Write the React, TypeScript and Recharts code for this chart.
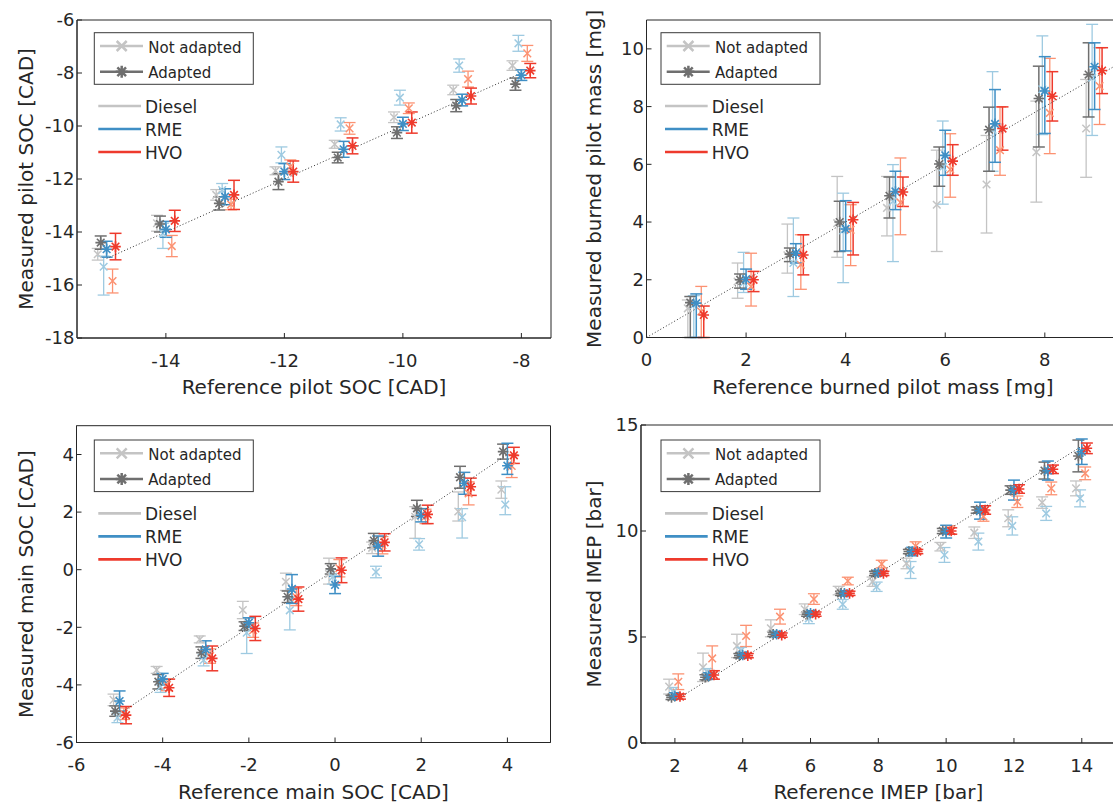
import React from 'react';
import { ScatterChart, Scatter, XAxis, YAxis, ErrorBar, ReferenceLine, ReferenceArea } from 'recharts';

type Err = number | [number, number];

const FONT = '"DejaVu Sans", Verdana, sans-serif';
const TEXT = '#262626';

const C_DIESEL_NA = '#c4c4c4';
const C_DIESEL_A = '#6f6f6f';
const C_RME_NA = '#9ecae1';
const C_RME_A = '#3f8fc5';
const C_HVO_NA = '#fc9272';
const C_HVO_A = '#ee3a2c';

const LEGEND_FUEL = ['Diesel', 'RME', 'HVO'];
const LEGEND_MODE = ['Not adapted', 'Adapted'];

// ---------- Top left: pilot SOC ----------
const TL_X = [-15, -14, -13, -12, -11, -10, -9, -8];
const TL_XTICKS = [-14, -12, -10, -8];
const TL_YTICKS = [-18, -16, -14, -12, -10, -8, -6];
const TL_D_NA = [-14.84, -13.67, -12.6, -11.69, -10.69, -9.67, -8.64, -7.72];
const TL_D_NA_E: Err[] = [0.22, 0.3, 0.2, 0.15, 0.15, 0.2, 0.18, 0.18];
const TL_D_A = [-14.4, -13.7, -12.92, -12.1, -11.19, -10.25, -9.23, -8.42];
const TL_D_A_E: Err[] = [0.25, 0.3, 0.25, 0.3, 0.2, 0.22, 0.23, 0.23];
const TL_R_NA = [-15.31, -14.05, -12.42, -11.09, -9.94, -8.93, -7.72, -6.88];
const TL_R_NA_E: Err[] = [[1.07, 0.4], [0.57, 0.38], 0.25, 0.3, 0.25, 0.28, 0.25, 0.3];
const TL_R_A = [-14.65, -13.9, -12.67, -11.72, -10.88, -9.92, -9.02, -8.08];
const TL_R_A_E: Err[] = [0.3, 0.3, 0.3, 0.3, 0.3, 0.25, 0.22, 0.2];
const TL_H_NA = [-15.85, -14.53, -12.96, -11.53, -10.09, -9.33, -8.23, -7.26];
const TL_H_NA_E: Err[] = [0.45, 0.4, 0.2, 0.25, 0.22, 0.2, 0.3, 0.3];
const TL_H_A = [-14.55, -13.58, -12.6, -11.72, -10.75, -9.87, -8.87, -7.91];
const TL_H_A_E: Err[] = [0.5, 0.4, 0.55, 0.4, 0.3, 0.4, 0.3, 0.27];

// ---------- Top right: burned pilot mass ----------
const TR_X = [1, 2, 3, 4, 5, 6, 7, 8, 9];
const TR_XTICKS = [0, 2, 4, 6, 8];
const TR_YTICKS = [0, 2, 4, 6, 8, 10];
const TR_D_NA = [1.01, 1.94, 2.85, 3.96, 4.49, 4.6, 5.3, 6.42, 7.24];
const TR_D_NA_E: Err[] = [[1.01, 0.29], [0.58, 0.64], [0.62, 1.08], [1.18, 1.62], [0.97, 1.09], [1.62, 1.89], [1.68, 1.7], [1.73, 1.77], [1.69, 1.7]];
const TR_D_A = [1.21, 2.0, 2.89, 4.0, 4.91, 6.01, 7.2, 8.28, 9.11];
const TR_D_A_E: Err[] = [[1.21, 0.21], [0.29, 0.2], [0.26, 0.21], [1.02, 0.72], [0.77, 0.65], [0.77, 0.59], [1.44, 0.78], [1.68, 1.12], [1.47, 1.1]];
const TR_R_NA = [1.13, 1.9, 2.58, 3.71, 4.72, 5.9, 7.2, 8.6, 9.0];
const TR_R_NA_E: Err[] = [[1.13, 0.32], [0.34, 1.05], [1.16, 1.56], [1.81, 1.29], [2.09, 1.27], [1.28, 1.6], [1.44, 2.01], [1.57, 1.85], [2.0, 1.85]];
const TR_R_A = [1.19, 2.02, 2.92, 3.76, 5.06, 6.31, 7.4, 8.54, 9.38];
const TR_R_A_E: Err[] = [[1.19, 0.32], [0.35, 0.35], [0.34, 0.33], [0.76, 0.98], [0.63, 0.7], [0.69, 0.87], [1.33, 1.19], [1.47, 1.19], [1.48, 0.83]];
const TR_H_NA = [0.9, 1.77, 2.52, 3.73, 4.68, 5.82, 6.49, 7.78, 8.71];
const TR_H_NA_E: Err[] = [[0.9, 0.87], [0.68, 1.15], [0.85, 1.04], [1.24, 0.87], [1.12, 1.54], [0.96, 1.24], [0.87, 1.5], [1.41, 1.89], [1.33, 1.33]];
const TR_H_A = [0.78, 2.0, 2.86, 4.08, 5.04, 6.11, 7.24, 8.36, 9.25];
const TR_H_A_E: Err[] = [[0.78, 0.31], [0.41, 0.29], [0.69, 0.7], [1.22, 0.6], [0.5, 0.52], [0.49, 0.57], [0.75, 0.75], [0.86, 0.85], [0.8, 0.79]];

// ---------- Bottom left: main SOC ----------
const BL_X = [-5, -4, -3, -2, -1, 0, 1, 2, 3, 4];
const BL_XTICKS = [-6, -4, -2, 0, 2, 4];
const BL_YTICKS = [-6, -4, -2, 0, 2, 4];
const BL_D_NA = [-4.52, -3.48, -2.42, -1.4, -0.42, -0.15, 0.76, 1.84, 2.02, 2.78];
const BL_D_NA_E: Err[] = [0.2, 0.12, 0.12, 0.3, 0.3, [0.35, 0.55], 0.2, [0.75, 0.35], [0.33, 0.68], 0.3];
const BL_D_A = [-4.91, -3.89, -2.88, -1.96, -0.94, 0.03, 1.01, 2.13, 3.21, 4.1];
const BL_D_A_E: Err[] = [0.18, 0.25, 0.2, 0.15, 0.2, 0.18, 0.25, 0.28, 0.38, 0.26];
const BL_R_NA = [-5.14, -4.06, -3.14, -2.19, -1.41, -0.25, -0.08, 0.88, 1.82, 2.26];
const BL_R_NA_E: Err[] = [0.17, 0.2, 0.2, [0.72, 0.3], [0.68, 0.47], 0.25, 0.2, 0.2, [0.72, 0.3], [0.35, 0.62]];
const BL_R_A = [-4.56, -3.8, -2.77, -1.84, -0.67, -0.53, 0.82, 1.89, 3.0, 3.61];
const BL_R_A_E: Err[] = [0.35, 0.2, 0.3, 0.17, 0.5, 0.3, 0.35, 0.23, 0.38, [0.3, 0.78]];
const BL_H_NA = [-5.0, -4.0, -3.0, -2.1, -0.95, 0.05, 0.85, 1.85, 2.65, 3.6];
const BL_H_NA_E: Err[] = [0.2, 0.2, 0.25, 0.25, 0.3, 0.3, 0.3, 0.25, 0.4, 0.4];
const BL_H_A = [-5.05, -4.1, -3.08, -2.04, -1.02, -0.02, 0.95, 1.92, 2.88, 3.97];
const BL_H_A_E: Err[] = [0.3, 0.3, 0.43, 0.42, 0.42, 0.43, 0.3, 0.32, 0.3, 0.28];

// ---------- Bottom right: IMEP ----------
const BR_X = [2, 3, 4, 5, 6, 7, 8, 9, 10, 11, 12, 13, 14];
const BR_XTICKS = [2, 4, 6, 8, 10, 12, 14];
const BR_YTICKS = [0, 5, 10, 15];
const BR_D_NA = [2.66, 3.57, 4.58, 5.41, 6.31, 7.19, 7.61, 8.47, 9.26, 9.92, 10.6, 11.34, 12.01];
const BR_D_NA_E: Err[] = [0.35, 0.67, 0.55, 0.4, 0.25, 0.2, 0.22, 0.25, 0.2, 0.27, 0.4, 0.27, 0.35];
const BR_D_A = [2.15, 3.1, 4.12, 5.13, 6.08, 7.06, 8.0, 9.03, 10.0, 10.99, 11.93, 12.85, 13.54];
const BR_D_A_E: Err[] = [0.1, 0.12, 0.1, 0.1, 0.1, 0.1, 0.1, 0.1, 0.12, 0.15, 0.2, 0.4, 0.75];
const BR_R_NA = [2.42, 3.36, 4.36, 5.13, 5.88, 6.54, 7.37, 8.16, 8.87, 9.5, 10.24, 10.83, 11.54];
const BR_R_NA_E: Err[] = [0.2, 0.15, 0.15, 0.15, 0.25, 0.23, 0.22, 0.4, 0.35, 0.4, 0.43, 0.33, 0.4];
const BR_R_A = [2.22, 3.16, 4.15, 5.13, 6.12, 7.06, 8.03, 9.03, 9.97, 10.96, 11.93, 12.85, 13.74];
const BR_R_A_E: Err[] = [0.15, 0.15, 0.12, 0.12, 0.12, 0.12, 0.12, 0.2, 0.3, 0.4, 0.47, 0.45, 0.6];
const BR_H_NA = [2.89, 3.99, 5.05, 5.96, 6.79, 7.64, 8.44, 9.29, 10.05, 10.68, 11.38, 12.01, 12.72];
const BR_H_NA_E: Err[] = [0.37, 0.59, 0.5, 0.35, 0.25, 0.18, 0.18, 0.2, 0.2, 0.22, 0.27, 0.3, 0.3];
const BR_H_A = [2.19, 3.21, 4.12, 5.09, 6.08, 7.06, 8.0, 9.03, 10.0, 10.99, 11.98, 12.91, 13.9];
const BR_H_A_E: Err[] = [0.12, 0.2, 0.1, 0.1, 0.1, 0.1, 0.1, 0.1, 0.15, 0.2, 0.2, 0.2, 0.25];

// x offsets (data units) of the six series around each reference value:
// [Diesel NA, RME NA, HVO NA, Diesel A, RME A, HVO A]
const OFF_TL = [-0.15, -0.05, 0.1, -0.1, 0, 0.15];
const OFF_TR = [-0.17, -0.05, 0.1, -0.12, 0, 0.15];
const OFF_BL = [-0.14, -0.05, 0.1, -0.1, 0, 0.15];
const OFF_BR = [-0.17, -0.05, 0.1, -0.1, 0, 0.15];

type Kind = 'x' | 'star';
interface Series { ys: number[]; es: Err[]; color: string; kind: Kind }
interface PlotDef {
  xs: number[];
  off: number[];
  series: Series[];
  xDomain: [number, number];
  yDomain: [number, number];
  xTicks: number[];
  yTicks: number[];
  diag: [number, number];
  xLabel: string;
  yLabel: string;
  box: { left: number; top: number; w: number; h: number };
  chartLeft: number;
  chartTop: number;
  yLabelX: number;
}

const mk = (d: number[], dA: number[], r: number[], rA: number[], h: number[], hA: number[],
  de: Err[], deA: Err[], re: Err[], reA: Err[], he: Err[], heA: Err[]): Series[] => [
  { ys: d, es: de, color: C_DIESEL_NA, kind: 'x' },
  { ys: r, es: re, color: C_RME_NA, kind: 'x' },
  { ys: h, es: he, color: C_HVO_NA, kind: 'x' },
  { ys: dA, es: deA, color: C_DIESEL_A, kind: 'star' },
  { ys: rA, es: reA, color: C_RME_A, kind: 'star' },
  { ys: hA, es: heA, color: C_HVO_A, kind: 'star' },
];

const PLOTS: PlotDef[] = [
  {
    xs: TL_X, off: OFF_TL,
    series: mk(TL_D_NA, TL_D_A, TL_R_NA, TL_R_A, TL_H_NA, TL_H_A, TL_D_NA_E, TL_D_A_E, TL_R_NA_E, TL_R_A_E, TL_H_NA_E, TL_H_A_E),
    xDomain: [-15.5, -7.5], yDomain: [-18, -6], xTicks: TL_XTICKS, yTicks: TL_YTICKS, diag: [-15, -8],
    xLabel: 'Reference pilot SOC [CAD]', yLabel: 'Measured pilot SOC [CAD]',
    box: { left: 77, top: 20, w: 474, h: 318 }, chartLeft: 0, chartTop: 0, yLabelX: 26,
  },
  {
    xs: TR_X, off: OFF_TR,
    series: mk(TR_D_NA, TR_D_A, TR_R_NA, TR_R_A, TR_H_NA, TR_H_A, TR_D_NA_E, TR_D_A_E, TR_R_NA_E, TR_R_A_E, TR_H_NA_E, TR_H_A_E),
    xDomain: [0, 9.5], yDomain: [0, 11], xTicks: TR_XTICKS, yTicks: TR_YTICKS, diag: [0, 9.5],
    xLabel: 'Reference burned pilot mass [mg]', yLabel: 'Measured burned pilot mass [mg]',
    box: { left: 646.5, top: 20, w: 473, h: 317.5 }, chartLeft: 560, chartTop: 0, yLabelX: 594,
  },
  {
    xs: BL_X, off: OFF_BL,
    series: mk(BL_D_NA, BL_D_A, BL_R_NA, BL_R_A, BL_H_NA, BL_H_A, BL_D_NA_E, BL_D_A_E, BL_R_NA_E, BL_R_A_E, BL_H_NA_E, BL_H_A_E),
    xDomain: [-6, 5], yDomain: [-6, 5], xTicks: BL_XTICKS, yTicks: BL_YTICKS, diag: [-5, 4],
    xLabel: 'Reference main SOC [CAD]', yLabel: 'Measured main SOC [CAD]',
    box: { left: 76.5, top: 425.7, w: 474, h: 316.8 }, chartLeft: 0, chartTop: 390, yLabelX: 26,
  },
  {
    xs: BR_X, off: OFF_BR,
    series: mk(BR_D_NA, BR_D_A, BR_R_NA, BR_R_A, BR_H_NA, BR_H_A, BR_D_NA_E, BR_D_A_E, BR_R_NA_E, BR_R_A_E, BR_H_NA_E, BR_H_A_E),
    xDomain: [1, 15], yDomain: [0, 15], xTicks: BR_XTICKS, yTicks: BR_YTICKS, diag: [2, 14],
    xLabel: 'Reference IMEP [bar]', yLabel: 'Measured IMEP [bar]',
    box: { left: 641, top: 425, w: 474.7, h: 318 }, chartLeft: 560, chartTop: 390, yLabelX: 594,
  },
];

const markPath = (kind: Kind, cx: number, cy: number, r: number) => {
  if (kind === 'x') {
    return `M${cx - r} ${cy - r}L${cx + r} ${cy + r}M${cx - r} ${cy + r}L${cx + r} ${cy - r}`;
  }
  const d = r * 0.72;
  return `M${cx - r} ${cy}L${cx + r} ${cy}M${cx} ${cy - r}L${cx} ${cy + r}M${cx - d} ${cy - d}L${cx + d} ${cy + d}M${cx - d} ${cy + d}L${cx + d} ${cy - d}`;
};

const makeShape = (kind: Kind, color: string) => (props: any) => {
  const { cx, cy } = props;
  if (cx == null || cy == null || isNaN(cx) || isNaN(cy)) return <g />;
  const r = kind === 'x' ? 3.8 : 5.3;
  return <path d={markPath(kind, cx, cy, r)} stroke={color} strokeWidth={kind === 'x' ? 1.5 : 1.6} fill="none" />;
};

const PAD_B = 62;
const PAD_R = 10;
const TICK_FS = 18;
const LABEL_FS = 20;

function Panel({ p }: { p: PlotDef }) {
  const padL = p.box.left - p.chartLeft;
  const padT = p.box.top - p.chartTop;
  const width = padL + p.box.w + PAD_R;
  const height = padT + p.box.h + PAD_B;
  return (
    <div style={{ position: 'absolute', left: p.chartLeft, top: p.chartTop, width, height }}>
      <ScatterChart width={width} height={height} margin={{ top: padT, right: PAD_R, left: 0, bottom: 0 }}>
        <XAxis
          type="number" dataKey="x" domain={p.xDomain} ticks={p.xTicks} allowDataOverflow interval={0}
          height={PAD_B} tickSize={-5} tickMargin={21}
          axisLine={{ stroke: TEXT }} tickLine={{ stroke: TEXT }}
          tick={{ fill: TEXT, fontSize: TICK_FS, fontFamily: FONT }}
          label={{ value: p.xLabel, position: 'insideBottom', offset: 6, fill: TEXT, fontSize: LABEL_FS, fontFamily: FONT }}
        />
        <YAxis
          type="number" dataKey="y" domain={p.yDomain} ticks={p.yTicks} allowDataOverflow interval={0}
          width={padL} tickSize={-5} tickMargin={7.5}
          axisLine={{ stroke: TEXT }} tickLine={{ stroke: TEXT }}
          tick={{ fill: TEXT, fontSize: TICK_FS, fontFamily: FONT }}
          label={{ value: p.yLabel, angle: -90, position: 'insideLeft', offset: p.yLabelX - p.chartLeft, fill: TEXT, fontSize: LABEL_FS, fontFamily: FONT, style: { textAnchor: 'middle' } }}
        />
        <ReferenceArea x1={p.xDomain[0]} x2={p.xDomain[1]} y1={p.yDomain[0]} y2={p.yDomain[1]} fill="none" fillOpacity={0} stroke={TEXT} strokeWidth={1} ifOverflow="visible" />
        {p.series.map((s, si) => {
          const data = p.xs.map((x, i) => ({ x: x + p.off[si], y: s.ys[i], e: s.es[i] }));
          return (
            <Scatter key={si} data={data} isAnimationActive={false} shape={makeShape(s.kind, s.color)}>
              <ErrorBar dataKey="e" direction="y" width={6} stroke={s.color} strokeWidth={s.kind === 'x' ? 1.3 : 1.5} isAnimationActive={false} />
            </Scatter>
          );
        })}
        <ReferenceLine segment={[{ x: p.diag[0], y: p.diag[0] }, { x: p.diag[1], y: p.diag[1] }]} stroke="#333" strokeWidth={1} strokeDasharray="1 2.2" ifOverflow="hidden" />
      </ScatterChart>
    </div>
  );
}

const LEG_SHIFT: [number, number][] = [[0, 0], [566.7, 0], [0, 407.3], [566.7, 407.3]];
const FUEL_COLORS = [C_DIESEL_NA, C_RME_A, C_HVO_A];

function Legends() {
  return (
    <svg width={1113} height={805} style={{ position: 'absolute', left: 0, top: 0, pointerEvents: 'none' }}>
      {LEG_SHIFT.map(([dx, dy], k) => {
        const bx = 94.3 + dx;
        const by = 32.7 + dy;
        return (
          <g key={k} fontFamily={FONT} fill={TEXT}>
            <rect x={bx} y={by} width={159} height={51.6} fill="#fff" stroke="#3a3a3a" strokeWidth={1} />
            <line x1={bx + 5.7} x2={bx + 48.7} y1={by + 13.3} y2={by + 13.3} stroke={C_DIESEL_NA} strokeWidth={2.5} />
            <path d={markPath('x', bx + 27.4, by + 13.3, 5)} stroke={C_DIESEL_NA} strokeWidth={2.5} fill="none" />
            <text x={bx + 54} y={by + 20.3} fontSize={15}>{LEGEND_MODE[0]}</text>
            <line x1={bx + 5.7} x2={bx + 48.7} y1={by + 39} y2={by + 39} stroke={C_DIESEL_A} strokeWidth={2.5} />
            <path d={markPath('star', bx + 27.4, by + 39, 6)} stroke={C_DIESEL_A} strokeWidth={2.5} fill="none" />
            <text x={bx + 54} y={by + 45} fontSize={15}>{LEGEND_MODE[1]}</text>
            {LEGEND_FUEL.map((f, i) => {
              const ly = by + 73.3 + i * 23;
              return (
                <g key={f}>
                  <line x1={bx + 4} x2={bx + 46.7} y1={ly} y2={ly} stroke={FUEL_COLORS[i]} strokeWidth={2.7} />
                  <text x={bx + 50.7} y={ly + 6.6} fontSize={17}>{f}</text>
                </g>
              );
            })}
          </g>
        );
      })}
    </svg>
  );
}

export default function App() {
  return (
    <div style={{ position: 'fixed', left: 0, top: 0, width: 1113, height: 805, overflow: 'hidden', background: '#fff' }}>
      {PLOTS.map((p, i) => <Panel key={i} p={p} />)}
      <Legends />
    </div>
  );
}
